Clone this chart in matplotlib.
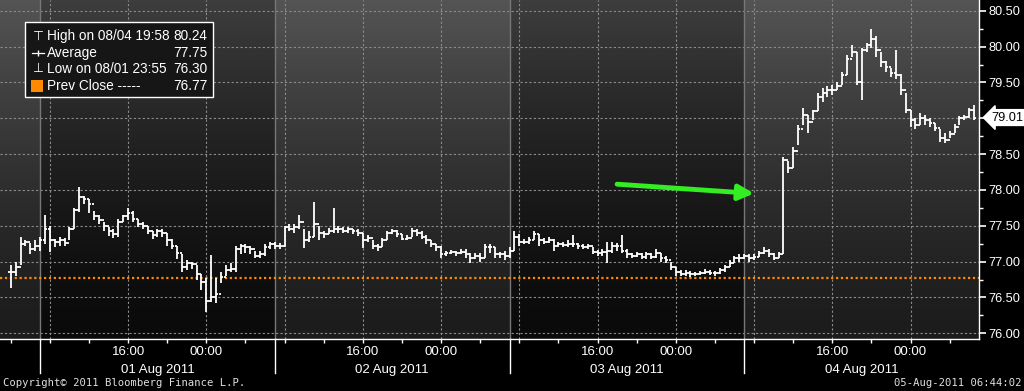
import numpy as np
import matplotlib
matplotlib.use("Agg")
import matplotlib.pyplot as plt
from matplotlib.patches import Rectangle
from matplotlib.transforms import blended_transform_factory

plt.rcParams['font.family'] = ['Liberation Sans', 'DejaVu Sans']

# bars every 30 minutes, time in hours counted from 01 Aug 2011 00:00
first_bar_hour = 4.0
bar_step = 0.5

close = [
    76.85, 76.92, 77.25, 77.27, 77.18, 77.22, 77.30, 77.45, 77.30, 77.28,
    77.30, 77.26, 77.45, 77.72, 77.90, 77.88, 77.80, 77.63, 77.58, 77.50,
    77.42, 77.38, 77.55, 77.63, 77.68, 77.60, 77.52, 77.50, 77.42, 77.37,
    77.42, 77.40, 77.30, 77.22, 77.12, 76.93, 76.98, 76.97, 76.82, 76.72,
    76.45, 76.50, 76.55, 76.78, 76.88, 76.90, 77.18, 77.22, 77.20, 77.18,
    77.08, 77.10, 77.20, 77.24, 77.22, 77.22, 77.48, 77.45, 77.48, 77.55,
    77.30, 77.35, 77.52, 77.40, 77.38, 77.43, 77.45, 77.45, 77.43, 77.45,
    77.42, 77.40, 77.30, 77.33, 77.22, 77.20, 77.30, 77.40, 77.42, 77.38,
    77.32, 77.33, 77.42, 77.40, 77.35, 77.30, 77.25, 77.20, 77.10, 77.12,
    77.13, 77.12, 77.13, 77.10, 77.05, 77.08, 77.05, 77.20, 77.20, 77.10,
    77.10, 77.08, 77.15, 77.35, 77.28, 77.28, 77.30, 77.38, 77.30, 77.28,
    77.30, 77.22, 77.25, 77.23, 77.25, 77.25, 77.22, 77.20, 77.22, 77.13,
    77.12, 77.13, 77.15, 77.22, 77.22, 77.15, 77.10, 77.08, 77.10, 77.07,
    77.10, 77.07, 77.12, 77.05, 77.02, 76.93, 76.85, 76.83, 76.84, 76.82,
    76.83, 76.84, 76.86, 76.84, 76.84, 76.88, 76.92, 76.98, 77.05, 77.05,
    77.08, 77.05, 77.07, 77.12, 77.15, 77.10, 77.05, 77.10, 78.42, 78.30,
    78.55, 78.85, 79.05, 78.95, 79.10, 79.30, 79.35, 79.40, 79.40, 79.45,
    79.60, 79.83, 79.93, 79.50, 79.95, 80.02, 80.10, 79.95, 79.78, 79.72,
    79.63, 79.60, 79.40, 79.12, 78.98, 78.90, 79.00, 78.98, 78.93, 78.87,
    78.72, 78.70, 78.78, 78.88, 79.00, 79.02, 79.12, 79.01,
]
high = [
    76.95, 77.00, 77.34, 77.30, 77.26, 77.30, 77.35, 77.65, 77.50, 77.32,
    77.35, 77.33, 77.48, 77.75, 78.04, 77.92, 77.88, 77.70, 77.65, 77.55,
    77.48, 77.45, 77.60, 77.65, 77.75, 77.70, 77.60, 77.55, 77.50, 77.42,
    77.45, 77.45, 77.40, 77.32, 77.22, 77.10, 77.02, 77.00, 76.95, 76.82,
    76.77, 77.09, 76.77, 76.85, 76.95, 76.98, 77.22, 77.25, 77.25, 77.22,
    77.15, 77.15, 77.25, 77.28, 77.28, 77.26, 77.50, 77.52, 77.52, 77.65,
    77.45, 77.42, 77.83, 77.50, 77.42, 77.47, 77.75, 77.50, 77.48, 77.48,
    77.46, 77.45, 77.40, 77.37, 77.30, 77.25, 77.33, 77.43, 77.46, 77.44,
    77.38, 77.37, 77.47, 77.45, 77.42, 77.37, 77.30, 77.25, 77.22, 77.15,
    77.16, 77.15, 77.17, 77.17, 77.12, 77.12, 77.12, 77.25, 77.25, 77.20,
    77.13, 77.15, 77.20, 77.43, 77.38, 77.32, 77.35, 77.42, 77.38, 77.33,
    77.35, 77.32, 77.28, 77.27, 77.30, 77.37, 77.26, 77.25, 77.25, 77.20,
    77.16, 77.17, 77.28, 77.28, 77.26, 77.37, 77.18, 77.12, 77.13, 77.12,
    77.13, 77.12, 77.18, 77.12, 77.08, 77.00, 76.92, 76.88, 76.88, 76.87,
    76.86, 76.87, 76.89, 76.88, 76.87, 76.91, 76.95, 77.02, 77.08, 77.10,
    77.10, 77.10, 77.10, 77.15, 77.20, 77.18, 77.12, 77.13, 78.46, 78.40,
    78.60, 78.90, 79.15, 79.05, 79.12, 79.35, 79.42, 79.45, 79.47, 79.50,
    79.65, 79.88, 80.02, 79.92, 79.98, 80.05, 80.24, 80.15, 79.92, 79.80,
    79.70, 79.95, 79.62, 79.35, 79.12, 79.00, 79.08, 79.05, 79.00, 78.93,
    78.85, 78.80, 78.82, 78.92, 79.03, 79.05, 79.15, 79.18,
]
low = [
    76.63, 76.80, 76.95, 77.22, 77.10, 77.15, 77.15, 77.25, 77.13, 77.20,
    77.22, 77.22, 77.30, 77.45, 77.69, 77.80, 77.68, 77.58, 77.52, 77.43,
    77.36, 77.33, 77.35, 77.55, 77.58, 77.55, 77.48, 77.45, 77.38, 77.32,
    77.35, 77.35, 77.22, 77.17, 77.03, 76.85, 76.88, 76.90, 76.75, 76.60,
    76.30, 76.43, 76.42, 76.70, 76.80, 76.85, 76.85, 77.10, 77.12, 77.10,
    77.05, 77.05, 77.08, 77.18, 77.18, 77.18, 77.20, 77.42, 77.40, 77.45,
    77.19, 77.28, 77.35, 77.30, 77.33, 77.38, 77.40, 77.40, 77.40, 77.40,
    77.38, 77.36, 77.19, 77.28, 77.18, 77.15, 77.20, 77.30, 77.38, 77.34,
    77.30, 77.30, 77.35, 77.36, 77.32, 77.25, 77.20, 77.15, 77.05, 77.08,
    77.10, 77.08, 77.10, 77.05, 76.98, 77.03, 77.00, 77.05, 77.12, 77.05,
    77.05, 77.02, 77.05, 77.15, 77.22, 77.24, 77.25, 77.30, 77.22, 77.25,
    77.26, 77.15, 77.20, 77.20, 77.20, 77.20, 77.18, 77.17, 77.17, 77.10,
    77.08, 77.08, 76.98, 77.12, 77.15, 77.12, 77.05, 77.05, 77.06, 77.03,
    77.04, 77.03, 77.05, 77.00, 76.98, 76.88, 76.80, 76.80, 76.80, 76.78,
    76.80, 76.81, 76.82, 76.81, 76.80, 76.82, 76.86, 76.92, 76.98, 77.00,
    77.03, 77.00, 77.02, 77.06, 77.10, 77.06, 77.02, 77.05, 77.10, 78.23,
    78.30, 78.62, 78.90, 78.80, 78.98, 79.10, 79.22, 79.30, 79.32, 79.40,
    79.47, 79.60, 79.85, 79.46, 79.25, 79.92, 79.98, 79.85, 79.72, 79.65,
    79.58, 79.55, 79.33, 79.08, 78.88, 78.85, 78.90, 78.90, 78.88, 78.82,
    78.67, 78.66, 78.72, 78.80, 78.90, 78.97, 79.00, 78.97,
]

prev_close = 76.77
last_price = 79.01
session_edges = [2.9, 7, 31, 55, 79, 103]   # sessions roll at 07:00
day_labels = ['01 Aug 2011', '02 Aug 2011', '03 Aug 2011', '04 Aug 2011']
legend_rows = [
    ('High on 08/04 19:58', '80.24'),
    ('Average', '77.75'),
    ('Low on 08/01 23:55', '76.30'),
    ('Prev Close -----', '76.77'),
]
# green annotation arrow (hours, price)
arrow_tail = (66.0, 78.08)
arrow_head = (80.0, 77.95)

W, H = 1024, 391
ylo, yhi = 75.92, 80.65


def px(x, y):
    # pixel position -> figure fraction
    return x / W, 1 - y / H


fig = plt.figure(figsize=(W / 100, H / 100), dpi=100, facecolor='black')
ax = fig.add_axes([0, 52 / H, 979 / W, 339 / H])
ax.set_facecolor('black')

# shaded sessions with vertical gradient
grad = np.linspace(1, 0, 256).reshape(-1, 1) ** 1.4
for k in range(len(session_edges) - 1):
    a, b = session_edges[k], session_edges[k + 1]
    top, bottom = (0.33, 0.11) if k % 2 == 0 else (0.24, 0.04)
    shade = bottom + (top - bottom) * grad
    ax.imshow(np.dstack([shade] * 3), extent=(a, b, ylo, yhi), aspect='auto',
              interpolation='bilinear', zorder=0)

ax.set_xlim(session_edges[0], session_edges[-1])
ax.set_ylim(ylo, yhi)

# grid
for y in np.arange(76.0, 80.51, 0.5):
    ax.axhline(y, color='#8c8c8c', lw=0.8, ls=(0, (2, 2)), zorder=1)
for h in range(8, 103, 8):
    ax.axvline(h, color='#8c8c8c', lw=0.8, ls=(0, (2, 2)), zorder=1)
for e in session_edges[1:-1]:
    ax.axvline(e, color='#777777', lw=1.0, zorder=1)
    ax.axvline(e, ymin=-0.1, ymax=0, color='white', lw=1.0, clip_on=False)

# previous close line
ax.axhline(prev_close, color='#ff8a00', lw=1.6, ls=(0, (1, 1.2)), zorder=2)

# OHLC-style bars, open tick drawn at previous bar's close
hours = first_bar_hour + bar_step * np.arange(len(close))
c = np.array(close)
o = np.r_[c[0], c[:-1]]
tick = 0.24
ax.vlines(hours, low, high, color='white', lw=1.3, zorder=3)
ax.hlines(c, hours, hours + tick, color='white', lw=1.3, zorder=3)
ax.hlines(o, hours - tick, hours, color='white', lw=1.3, zorder=3)

# arrow
ax.annotate('', xy=arrow_head, xytext=arrow_tail, zorder=4,
            arrowprops=dict(arrowstyle='-|>,head_length=0.9,head_width=0.45',
                            lw=3.5, color='#33ee22', shrinkA=0, shrinkB=0))

# spines / axes
for s in ['top', 'left']:
    ax.spines[s].set_visible(False)
for s in ['bottom', 'right']:
    ax.spines[s].set_color('white')
    ax.spines[s].set_linewidth(1.0)

ax.yaxis.tick_right()
yt = np.arange(76.0, 80.51, 0.5)
ax.set_yticks(yt)
# the 79.00 label sits under the last price tag
ax.set_yticklabels(['' if abs(v - 79.0) < 1e-6 else '%.2f' % v for v in yt])
ax.set_yticks(np.arange(76.25, 80.5, 0.5), minor=True)
ax.tick_params(axis='y', which='major', colors='white', length=5, width=1.2,
               labelsize=9.2, pad=2)
ax.tick_params(axis='y', which='minor', colors='white', length=3, width=1)

major_x = [16, 24, 40, 48, 64, 72, 88, 96]
ax.set_xticks(major_x)
ax.set_xticklabels(['16:00' if h % 24 == 16 else '00:00' for h in major_x])
ax.set_xticks([h for h in range(4, 103, 4) if h not in major_x], minor=True)
ax.tick_params(axis='x', which='both', colors='white', length=3, width=1,
               labelsize=9.5, pad=2)

trans = blended_transform_factory(ax.transData, ax.transAxes)
for k, lab in enumerate(day_labels):
    mid = (session_edges[k + 1] + session_edges[k + 2]) / 2
    ax.text(mid, -0.092, lab, transform=trans, ha='center', va='center',
            color='white', fontsize=9.5)

# last price tag
ax.text(1.013, last_price, '%.2f' % last_price,
        transform=blended_transform_factory(ax.transAxes, ax.transData),
        ha='left', va='center', color='black', fontsize=9.2, zorder=5,
        bbox=dict(boxstyle='larrow,pad=0.15', fc='white', ec='white'))

# legend box
x0, y0 = px(25, 97)
x1, y1 = px(213, 22)
fig.patches.append(Rectangle((x0, y0), x1 - x0, y1 - y0, transform=fig.transFigure,
                             fc='#161616', ec='white', lw=1.0, zorder=5))
row_y = [36, 53, 69, 86]
for (lab, val), yy in zip(legend_rows, row_y):
    fig.text(*px(47, yy), lab, color='white', fontsize=9.8, va='center', zorder=6)
    fig.text(*px(207, yy), val, color='white', fontsize=9.8, va='center',
             ha='right', zorder=6)
fig.text(*px(38, row_y[0]), '\u22a4', color='white', fontsize=9, va='center',
         ha='center', family='DejaVu Sans', zorder=6)
fig.text(*px(38, row_y[2]), '\u22a5', color='white', fontsize=9, va='center',
         ha='center', family='DejaVu Sans', zorder=6)
avg_x = [px(32, 0)[0], px(44, 0)[0]]
avg_y = px(0, row_y[1])[1]
fig.lines.append(plt.Line2D(avg_x, [avg_y] * 2, transform=fig.transFigure,
                            color='white', lw=0.9, zorder=6))
fig.lines.append(plt.Line2D([px(38, 0)[0]], [avg_y], transform=fig.transFigure,
                            color='white', marker='|', ms=5, mew=1, zorder=6))
sx0, sy0 = px(31, 92)
sx1, sy1 = px(43, 80)
fig.patches.append(Rectangle((sx0, sy0), sx1 - sx0, sy1 - sy0, transform=fig.transFigure,
                             fc='#ff8a00', ec='none', zorder=6))

# footer
fig.text(*px(3, 383), 'Copyright\u00a9 2011 Bloomberg Finance L.P.', color='#e0e0e0',
         fontsize=7.6, family='DejaVu Sans Mono', va='center')
fig.text(*px(1021, 383), '05-Aug-2011 06:44:02', color='#e0e0e0',
         fontsize=7.6, family='DejaVu Sans Mono', va='center', ha='right')

fig.savefig('out.png', dpi=100, facecolor='black')
